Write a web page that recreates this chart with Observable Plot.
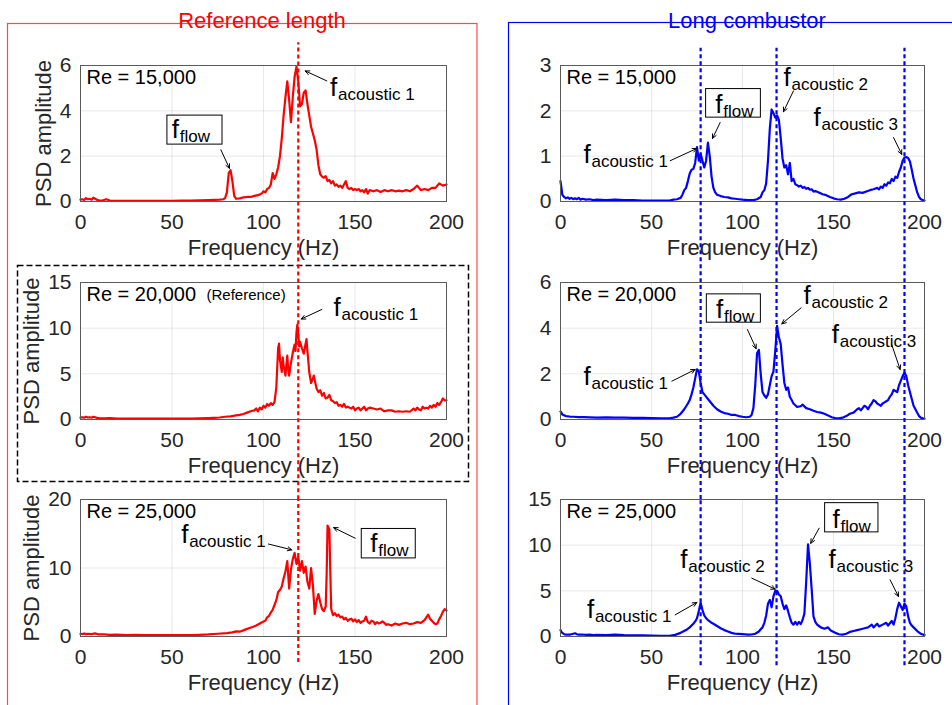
<!DOCTYPE html>
<html><head><meta charset="utf-8">
<script src="https://cdn.jsdelivr.net/npm/d3@7"></script>
<script src="https://cdn.jsdelivr.net/npm/@observablehq/plot@0.6"></script>
<style>
body{margin:0;background:#fff;}
#fig{position:relative;width:952px;height:705px;overflow:hidden;font-family:"Liberation Sans",Arial,sans-serif;background:#fff;}
.cell{position:absolute;}
.cell svg{overflow:visible;background:transparent;}
#deco{position:absolute;left:0;top:0;}
</style></head><body><div id="fig"></div>
<script>
// ---------- data (frequency Hz, PSD amplitude) ----------
const freqTicks = [0, 50, 100, 150, 200];

const refRe15 = [[0,0.08],[1,0.1],[2,0.07],[3,0.15],[4,0.1],[5,0.12],[6,0.08],[7,0.17],[8,0.12],[9,0.07],[10,0.05],[12,0.04],[14,0.1],[16,0.04],[20,0.03],[25,0.03],[30,0.03],[35,0.03],[40,0.03],[45,0.03],[50,0.03],[55,0.04],[60,0.04],[65,0.05],[70,0.06],[73,0.07],[76,0.08],[78,0.1],[79,0.15],[80,0.4],[81,1.25],[82,1.38],[83,0.9],[84,0.25],[85,0.12],[87,0.14],[89,0.18],[91,0.2],[93,0.2],[95,0.25],[97,0.28],[99,0.35],[100,0.45],[101,0.4],[102,0.55],[103,0.6],[104,0.75],[105,1.25],[106,1.0],[107,1.2],[108,1.5],[109,2.0],[110,2.8],[111,3.8],[112,4.6],[113,5.3],[114,4.5],[115,3.5],[116,4.6],[117,5.5],[118,5.95],[119,5.3],[120,4.2],[121,4.3],[122,4.8],[123,4.9],[124,4.3],[125,3.8],[126,3.3],[127,3.0],[128,2.7],[129,2.3],[130,1.6],[131,1.2],[132,1.1],[133,1.05],[134,1.12],[135,0.9],[136,0.95],[137,0.8],[138,0.9],[139,0.7],[140,0.75],[141,0.65],[142,0.7],[143,0.6],[144,0.75],[145,0.9],[146,0.6],[147,0.55],[148,0.6],[149,0.5],[150,0.55],[151,0.5],[152,0.55],[153,0.45],[154,0.5],[155,0.4],[156,0.55],[157,0.35],[158,0.5],[160,0.45],[162,0.5],[164,0.42],[166,0.5],[168,0.45],[170,0.5],[172,0.45],[174,0.48],[176,0.45],[178,0.5],[180,0.45],[182,0.55],[184,0.7],[186,0.5],[188,0.55],[190,0.5],[192,0.6],[194,0.6],[196,0.8],[198,0.7],[200,0.75]];

const refRe20 = [[0,0.2],[1,0.25],[2,0.2],[3,0.3],[4,0.22],[5,0.25],[6,0.2],[7,0.3],[8,0.25],[9,0.18],[10,0.15],[13,0.12],[16,0.15],[20,0.1],[25,0.1],[30,0.1],[35,0.1],[40,0.1],[45,0.1],[50,0.1],[55,0.1],[60,0.1],[65,0.12],[70,0.15],[73,0.18],[76,0.22],[79,0.3],[82,0.35],[85,0.45],[87,0.5],[89,0.6],[91,0.75],[93,0.9],[95,1.0],[96,1.2],[97,0.9],[98,1.3],[99,1.1],[100,1.5],[101,1.3],[102,1.7],[103,1.5],[104,1.8],[105,1.6],[106,1.9],[107,3.5],[108,7.8],[108.5,8.3],[109,6.5],[110,5.2],[110.5,6.8],[111,5.9],[112,4.8],[112.5,6.0],[113,7.0],[113.5,5.5],[114,4.8],[115,6.2],[116,7.3],[117,8.2],[117.5,7.5],[118,9.5],[118.5,10.4],[119,9.3],[119.5,8.0],[120,8.5],[121,7.8],[122,7.2],[123,8.3],[123.5,8.8],[124,7.5],[125,5.2],[126,4.0],[127,4.5],[127.5,4.8],[128,4.3],[129,3.4],[130,3.0],[131,3.2],[132,2.6],[133,2.9],[134,2.3],[135,2.4],[136,2.7],[137,2.1],[138,2.0],[139,1.8],[140,1.9],[141,1.5],[142,1.6],[143,1.4],[144,1.7],[145,1.3],[146,1.4],[147,1.3],[148,1.2],[149,1.4],[150,1.0],[151,1.2],[152,1.3],[153,1.0],[154,1.2],[155,1.4],[156,1.0],[157,1.2],[158,1.3],[160,1.2],[162,1.1],[164,1.2],[166,0.9],[168,1.0],[170,1.0],[172,0.85],[174,0.9],[176,0.85],[178,0.9],[180,0.85],[182,1.2],[183,1.0],[184,1.3],[185,1.1],[186,1.0],[187,1.4],[188,1.2],[189,1.3],[190,1.2],[191,1.5],[192,1.3],[193,1.6],[194,1.4],[195,1.8],[196,1.6],[197,1.9],[198,2.3],[199,2.1],[200,2.1]];

const refRe25 = [[0,0.4],[1,0.35],[2,0.45],[3,0.35],[4,0.4],[6,0.35],[8,0.45],[10,0.3],[13,0.3],[16,0.25],[20,0.28],[25,0.22],[30,0.25],[35,0.2],[40,0.22],[45,0.2],[50,0.22],[55,0.2],[60,0.22],[65,0.25],[70,0.3],[75,0.4],[80,0.5],[83,0.6],[85,0.75],[87,0.7],[90,1.0],[92,1.2],[94,1.4],[96,1.6],[98,1.9],[100,2.2],[101,2.3],[102,2.8],[103,3.0],[104,3.5],[105,3.9],[106,4.6],[107,5.3],[108,6.5],[109,6.8],[110,7.3],[111,8.5],[112,9.5],[113,11.0],[114,7.0],[115,9.8],[116,11.3],[117,12.2],[118,10.6],[119,11.6],[120,9.6],[121,11.0],[122,9.3],[123,10.2],[124,8.0],[125,7.0],[126,10.0],[127,7.5],[128,3.3],[129,5.2],[130,6.2],[131,5.0],[132,4.0],[133,3.7],[134,4.4],[134.5,9.0],[135,16.2],[136,15.6],[136.5,9.5],[137,4.0],[138,3.1],[139,3.4],[140,3.0],[141,3.2],[142,2.8],[143,2.9],[144,2.5],[145,2.7],[146,2.3],[147,2.5],[148,2.6],[149,2.2],[150,2.5],[151,2.1],[152,2.4],[153,2.0],[154,2.2],[155,2.3],[156,2.9],[157,2.1],[158,1.9],[159,2.3],[160,2.2],[161,1.8],[162,2.1],[163,1.9],[164,2.0],[165,2.2],[166,2.0],[167,1.7],[168,1.8],[170,1.6],[172,1.9],[174,1.7],[176,1.9],[178,2.0],[180,1.8],[182,1.9],[184,2.1],[186,2.0],[188,2.4],[189,2.8],[190,3.2],[191,2.6],[192,2.3],[193,2.0],[194,1.8],[195,1.9],[196,2.5],[197,3.0],[198,3.6],[199,4.0],[200,3.8]];

const longRe15 = [[0,0.45],[0.5,0.3],[1,0.15],[2,0.1],[3,0.07],[4,0.09],[5,0.06],[6,0.08],[7,0.05],[8,0.07],[9,0.05],[10,0.08],[11,0.04],[12,0.06],[14,0.04],[16,0.05],[18,0.03],[20,0.04],[25,0.03],[30,0.04],[35,0.03],[40,0.03],[45,0.02],[50,0.02],[55,0.02],[60,0.02],[62,0.04],[64,0.05],[66,0.08],[67,0.15],[68,0.25],[69,0.3],[70,0.45],[71,0.62],[72,0.7],[73,0.72],[74,0.85],[75,1.2],[76,0.9],[77,1.05],[78,0.9],[79,0.75],[80,0.9],[81,1.3],[82,1.0],[83,0.55],[84,0.3],[85,0.2],[86,0.15],[88,0.12],[90,0.1],[92,0.09],[94,0.07],[96,0.06],[98,0.05],[100,0.04],[103,0.03],[106,0.03],[108,0.05],[110,0.1],[111,0.2],[112,0.25],[113,0.4],[114,0.9],[115,1.6],[116,2.03],[117,1.95],[118,1.85],[119,1.9],[120,1.8],[121,1.4],[122,0.95],[123,0.75],[124,0.8],[125,0.6],[126,0.85],[127,0.45],[128,0.5],[129,0.38],[130,0.36],[131,0.33],[132,0.35],[133,0.3],[134,0.32],[135,0.28],[136,0.3],[137,0.26],[138,0.27],[139,0.22],[140,0.23],[142,0.2],[144,0.16],[146,0.14],[148,0.1],[150,0.07],[152,0.05],[154,0.04],[156,0.06],[158,0.1],[160,0.16],[162,0.18],[164,0.2],[166,0.19],[168,0.22],[170,0.25],[172,0.27],[174,0.3],[175,0.27],[176,0.33],[177,0.3],[178,0.38],[179,0.35],[180,0.42],[181,0.4],[182,0.5],[183,0.45],[184,0.55],[185,0.52],[186,0.65],[187,0.75],[188,0.9],[189,0.97],[190,0.98],[191,0.96],[192,0.88],[193,0.7],[194,0.5],[195,0.35],[196,0.2],[197,0.1],[198,0.05],[199,0.03],[200,0.02]];

const longRe20 = [[0,0.35],[0.5,0.3],[1,0.22],[2,0.18],[3,0.15],[5,0.13],[7,0.12],[10,0.1],[13,0.1],[16,0.09],[20,0.08],[25,0.09],[30,0.08],[35,0.08],[40,0.07],[45,0.07],[50,0.06],[55,0.05],[60,0.05],[62,0.08],[64,0.12],[66,0.25],[68,0.45],[70,0.7],[71,0.85],[72,1.1],[73,1.4],[74,1.8],[75,2.2],[76,2.1],[77,1.6],[78,1.2],[79,1.1],[80,1.0],[81,0.9],[82,0.8],[84,0.6],[86,0.45],[88,0.35],[90,0.28],[92,0.25],[94,0.2],[96,0.2],[98,0.15],[100,0.12],[102,0.1],[104,0.12],[105,0.2],[106,0.5],[107,1.5],[108,2.9],[109,3.05],[110,2.0],[111,1.2],[112,1.05],[113,0.95],[114,1.1],[115,1.5],[116,1.9],[117,2.1],[118,3.0],[119,4.1],[120,3.6],[121,3.3],[122,2.4],[123,1.6],[124,1.3],[125,1.4],[126,1.0],[127,0.85],[128,0.7],[130,0.55],[132,0.58],[133,0.65],[135,0.5],[137,0.45],[139,0.38],[141,0.33],[143,0.3],[145,0.25],[147,0.18],[149,0.1],[151,0.06],[153,0.05],[155,0.08],[157,0.15],[159,0.25],[161,0.3],[163,0.45],[164,0.5],[165,0.4],[166,0.5],[167,0.6],[168,0.55],[169,0.45],[170,0.6],[171,0.7],[172,0.85],[173,0.8],[174,0.7],[175,0.65],[176,0.6],[177,0.7],[178,0.75],[179,0.8],[180,0.85],[181,1.0],[182,1.1],[183,1.3],[184,1.25],[185,1.2],[186,1.5],[187,1.7],[188,1.9],[189,2.05],[190,1.9],[191,1.5],[192,1.2],[193,0.9],[194,0.6],[195,0.45],[196,0.3],[197,0.15],[198,0.08],[199,0.05],[200,0.04]];

const longRe25 = [[0,0.7],[0.5,0.5],[1,0.4],[2,0.25],[3,0.2],[4,0.22],[5,0.2],[6,0.25],[7,0.3],[8,0.35],[9,0.25],[10,0.2],[12,0.22],[14,0.18],[16,0.2],[18,0.15],[20,0.18],[25,0.15],[30,0.2],[35,0.15],[40,0.13],[45,0.12],[50,0.1],[55,0.06],[60,0.08],[63,0.18],[66,0.4],[69,0.7],[71,1.0],[72,1.2],[73,1.4],[74,1.65],[75,2.0],[76,2.8],[77,3.7],[78,2.9],[79,2.3],[80,2.0],[81,1.8],[82,1.65],[83,1.5],[84,1.4],[86,1.15],[88,0.9],[90,0.7],[92,0.55],[94,0.4],[96,0.3],[98,0.28],[100,0.25],[103,0.2],[105,0.22],[107,0.3],[109,0.55],[110,0.8],[111,1.0],[112,1.5],[113,2.3],[114,3.6],[115,4.0],[116,3.2],[117,4.4],[118,5.0],[119,5.0],[120,4.6],[121,4.4],[122,3.6],[123,3.0],[124,3.4],[125,2.8],[126,2.1],[127,1.5],[128,1.3],[129,1.6],[130,1.3],[131,1.6],[132,1.35],[133,1.8],[134,2.5],[135,6.0],[136,10.1],[137,8.0],[138,5.2],[139,2.2],[140,1.6],[141,1.3],[142,1.15],[143,1.0],[145,0.85],[147,1.0],[148,0.75],[149,0.6],[151,0.4],[153,0.25],[155,0.2],[157,0.3],[159,0.5],[161,0.6],[163,0.7],[165,0.8],[167,0.9],[169,1.0],[171,1.3],[172,1.0],[174,1.4],[175,1.1],[177,1.3],[179,1.5],[180,1.2],[182,1.7],[183,1.3],[184,2.0],[185,3.0],[186,3.7],[187,3.3],[188,2.9],[189,3.6],[190,3.3],[191,2.2],[192,1.5],[193,1.2],[194,1.0],[196,0.6],[198,0.3],[200,0.15]];

// marker frequencies (dashed lines)
const refMarkers = [119];
const longMarkers = [77, 118.7, 189];

// y ticks per panel
const yTicksRe15Ref = [0, 2, 4, 6];
const yTicksRe20Ref = [0, 5, 10, 15];
const yTicksRe25Ref = [0, 10, 20];
const yTicksRe15Long = [0, 1, 2, 3];
const yTicksRe20Long = [0, 2, 4, 6];
const yTicksRe25Long = [0, 5, 10, 15];

// ---------- panel specs ----------
const RED = "#ff0000", BLUE = "#0000ff";
const panels = [
  {col:0,row:0,data:refRe15,color:RED,yMax:6,yTicks:yTicksRe15Ref,re:"Re = 15,000",markers:refMarkers,span:[-3.6,7.0],ylabDx:-37,
   labels:[{x:136.4,y:4.66,sub:"acoustic 1"},{x:49.9,y:2.82,sub:"flow"}],
   arrows:[{x1:134.6,y1:5.32,x2:122.8,y2:5.76},{x1:76.7,y1:2.28,x2:81.4,y2:1.46}],
   boxes:[{x1:47.5,x2:77.6,y1:2.51,y2:3.79}]},
  {col:0,row:1,data:refRe20,color:RED,yMax:15,yTicks:yTicksRe20Ref,re:"Re = 20,000",reExtra:"(Reference)",markers:refMarkers,span:[-8.8,15],ylabDx:-49,
   labels:[{x:138.3,y:11.3,sub:"acoustic 1"}],
   arrows:[{x1:131.9,y1:12.05,x2:120.6,y2:11.0}],
   boxes:[]},
  {col:0,row:2,data:refRe25,color:RED,yMax:20,yTicks:yTicksRe25Ref,re:"Re = 25,000",markers:refMarkers,span:[-3.8,20],ylabDx:-49,
   labels:[{x:55,y:13.6,sub:"acoustic 1"},{x:158.3,y:12.4,sub:"flow"}],
   arrows:[{x1:102.7,y1:13.5,x2:115.5,y2:12.65},{x1:150.1,y1:14.35,x2:138.3,y2:15.9}],
   boxes:[{x1:153.7,x2:183.2,y1:11.4,y2:15.7}]},
  {col:1,row:0,data:longRe15,color:BLUE,yMax:3,yTicks:yTicksRe15Long,re:"Re = 15,000",markers:longMarkers,span:[-1.79,3.38],
   labels:[{x:12.6,y:0.86,sub:"acoustic 1"},{x:85,y:1.96,sub:"flow"},{x:122.5,y:2.55,sub:"acoustic 2"},{x:139,y:1.67,sub:"acoustic 3"}],
   arrows:[{x1:60.3,y1:0.9,x2:74.9,y2:1.17},{x1:87.7,y1:1.74,x2:83.5,y2:1.39},{x1:128,y1:2.44,x2:122.5,y2:1.98},{x1:183,y1:1.41,x2:187.5,y2:1.04}],
   boxes:[{x1:80.0,x2:110.1,y1:1.85,y2:2.48}]},
  {col:1,row:1,data:longRe20,color:BLUE,yMax:6,yTicks:yTicksRe20Long,re:"Re = 20,000",markers:longMarkers,span:[-3.5,6],
   labels:[{x:12.6,y:1.53,sub:"acoustic 1"},{x:85.5,y:4.45,sub:"flow"},{x:133.5,y:5.04,sub:"acoustic 2"},{x:149,y:3.36,sub:"acoustic 3",bold:true}],
   arrows:[{x1:61.2,y1:1.68,x2:74.0,y2:2.19},{x1:102.7,y1:3.94,x2:107.5,y2:3.1},{x1:132.2,y1:4.89,x2:121.6,y2:4.19},{x1:182,y1:3.28,x2:186.6,y2:2.19}],
   boxes:[{x1:80.4,x2:110.1,y1:4.24,y2:5.48}]},
  {col:1,row:2,data:longRe25,color:BLUE,yMax:15,yTicks:yTicksRe25Long,re:"Re = 25,000",markers:longMarkers,span:[-3.2,15],
   labels:[{x:14.5,y:2.0,sub:"acoustic 1"},{x:65.8,y:7.48,sub:"acoustic 2"},{x:149.5,y:11.9,sub:"flow"},{x:147.3,y:7.48,sub:"acoustic 3",bold:true}],
   arrows:[{x1:63,y1:2.37,x2:74.9,y2:3.72},{x1:105.1,y1:6.39,x2:118,y2:5.18},{x1:142.1,y1:11.86,x2:137.5,y2:10.2},{x1:181.1,y1:6.2,x2:185.7,y2:4.38}],
   boxes:[{x1:145.4,x2:174.7,y1:11.4,y2:14.6}]}
];

// ---------- layout ----------
const colLeft = [0, 476], colML = [80, 84], colMR = [30, 28];
const rowPlotTop = [65, 282, 499], rowPlotH = [136, 137, 137];
const MT = 25, MB = 60, W = 476;
const FONT = '"Liberation Sans", Arial, Helvetica, sans-serif';

const fig = document.getElementById("fig");

// decorations: frames, titles, dashed reference box
const ns = "http://www.w3.org/2000/svg";
const deco = document.createElementNS(ns, "svg");
deco.setAttribute("id", "deco"); deco.setAttribute("width", 952); deco.setAttribute("height", 705);
deco.innerHTML = `
  <rect x="7.5" y="23.5" width="469.5" height="700" fill="none" stroke="#ff4a4a" stroke-width="1.2"/>
  <rect x="508.5" y="22.5" width="500" height="700" fill="none" stroke="#0000ff" stroke-width="1.2"/>
  <rect x="17.5" y="265.5" width="451" height="216" fill="none" stroke="#000" stroke-width="1.5" stroke-dasharray="6,3"/>
  <text x="262" y="28" text-anchor="middle" fill="#ff0000" font-size="22" font-family='${FONT}'>Reference length</text>
  <text x="747" y="28" text-anchor="middle" fill="#0000ff" font-size="22" font-family='${FONT}'>Long combustor</text>`;
fig.appendChild(deco);

for (const p of panels) {
  const H = MT + rowPlotH[p.row] + MB;
  const marks = [
    Plot.line(p.data, {x: d => d[0], y: d => d[1], stroke: p.color, strokeWidth: 2.2}),
    Plot.frame({stroke: "#5a5a5a", strokeWidth: 1}),
    Plot.ruleX(p.markers, {x: d => d, y1: p.span[0], y2: p.span[1], stroke: p.color, strokeWidth: 2.2, strokeDasharray: "4,3"}),
    Plot.rect(p.boxes, {x1: "x1", x2: "x2", y1: "y1", y2: "y2", fill: "white", stroke: "#000", strokeWidth: 1}),
    Plot.arrow(p.arrows, {x1: "x1", y1: "y1", x2: "x2", y2: "y2", stroke: "#000", strokeWidth: 1, headLength: 7, headAngle: 50}),
    Plot.text(p.labels, {x: "x", y: "y", text: () => "f", fontSize: 26, textAnchor: "start", lineAnchor: "bottom", fill: "#000", fontWeight: d => d.bold ? "bold" : "normal"}),
    Plot.text(p.labels, {x: "x", y: "y", text: "sub", fontSize: 17, textAnchor: "start", lineAnchor: "bottom", dx: 8, dy: 4, fill: "#000"}),
    Plot.text([p.re], {frameAnchor: "top-left", textAnchor: "start", lineAnchor: "top", dx: 6, dy: 4, fontSize: 20, fill: "#000"}),
    Plot.text(["Frequency (Hz)"], {frameAnchor: "bottom", lineAnchor: "bottom", dy: 53, fontSize: 22, fill: "#262626"})
  ];
  if (p.reExtra) marks.push(Plot.text([p.reExtra], {frameAnchor: "top-left", textAnchor: "start", lineAnchor: "top", dx: 126, dy: 7, fontSize: 15, fill: "#000"}));
  if (p.col === 0) marks.push(Plot.text(["PSD amplitude"], {frameAnchor: "left", textAnchor: "middle", lineAnchor: "middle", rotate: -90, dx: p.ylabDx, fontSize: 22, fill: "#262626"}));

  const chart = Plot.plot({
    width: W, height: H,
    marginLeft: colML[p.col], marginRight: colMR[p.col], marginTop: MT, marginBottom: MB,
    style: {background: "transparent", overflow: "visible", fontFamily: FONT, fontSize: "21px", color: "#262626"},
    x: {domain: [0, 200], ticks: freqTicks, tickFormat: d => String(d), tickSize: 0, tickPadding: 13, grid: true, label: null},
    y: {domain: [0, p.yMax], ticks: p.yTicks, tickFormat: d => String(d), tickSize: 0, tickPadding: 9, grid: true, label: null},
    marks
  });
  const cell = document.createElement("div");
  cell.className = "cell";
  cell.style.left = colLeft[p.col] + "px";
  cell.style.top = (rowPlotTop[p.row] - MT) + "px";
  cell.appendChild(chart);
  fig.appendChild(cell);
}
</script></body></html>
